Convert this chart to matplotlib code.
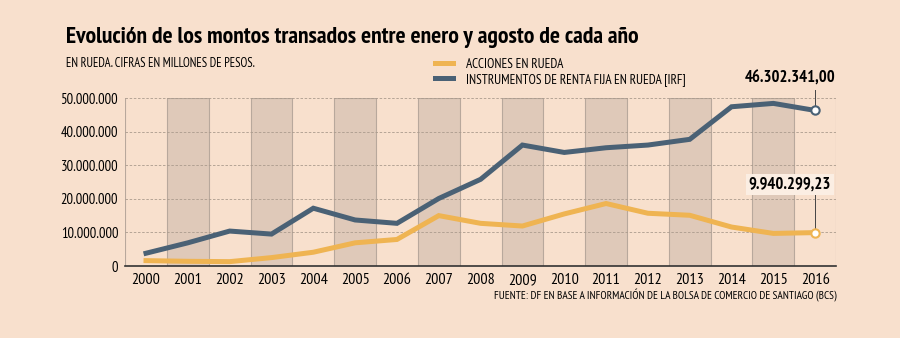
import matplotlib.pyplot as plt
import numpy as np

years = list(range(2000, 2017))
irf = [3.8, 6.9, 10.4, 9.5, 17.2, 13.7, 12.7, 20.1, 25.8, 36.0, 33.8, 35.2, 36.0, 37.7, 47.4, 48.4, 46.302341]
acciones = [1.6, 1.4, 1.3, 2.5, 4.1, 6.9, 7.9, 15.0, 12.7, 11.9, 15.5, 18.6, 15.7, 15.1, 11.6, 9.7, 9.94029923]
yticks = [0, 10, 20, 30, 40, 50]
ytick_labels = ['0', '10.000.000', '20.000.000', '30.000.000', '40.000.000', '50.000.000']

bg = '#f8e0cd'
band = '#dfc9b9'
blue = '#4a6175'
orange = '#efb452'

plt.rcParams['font.family'] = ['PT Sans Narrow', 'DejaVu Sans']

fig = plt.figure(figsize=(9, 3.38), dpi=100, facecolor=bg)
ax = fig.add_axes([0.139, 0.213, 0.79, 0.497])
ax.set_facecolor(bg)

x = np.arange(len(years))
for i in range(1, len(years), 2):
    ax.axvspan(i - 0.5, i + 0.5, facecolor=band, edgecolor='#b8a89c', linewidth=0.8, zorder=0)

for v in yticks[1:]:
    ax.axhline(v, color='#ab9b8d', linestyle=(0, (3, 2)), linewidth=0.6, zorder=1)

ax.plot(x, acciones, color=orange, linewidth=3.6, solid_joinstyle='miter', zorder=3)
ax.plot(x, irf, color=blue, linewidth=3.6, solid_joinstyle='miter', zorder=3)
ax.plot(x[-1], acciones[-1], 'o', ms=6, mfc='white', mec=orange, mew=1.5, zorder=4)
ax.plot(x[-1], irf[-1], 'o', ms=6, mfc='white', mec=blue, mew=1.5, zorder=4)

ax.set_xlim(-0.5, 16.5)
ax.set_ylim(0, 50)
ax.set_xticks(x)
ax.set_xticklabels([str(y) for y in years], fontsize=11.5)
ax.set_yticks(yticks)
ax.set_yticklabels(ytick_labels, fontsize=10.5)
ax.tick_params(length=0, pad=5)
for s in ['left', 'right', 'top']:
    ax.spines[s].set_visible(False)
ax.spines['bottom'].set_color('#333333')
ax.spines['bottom'].set_linewidth(1.2)
ax.axvline(-0.5, color='#b8a89c', linewidth=0.8, zorder=0)
ax.axvline(16.5, color='#b8a89c', linewidth=0.8, zorder=0)

# etiquetas del ultimo valor
ax.plot([x[-1], x[-1]], [irf[-1] + 1.2, 52.4], color='#444444', linewidth=0.7, clip_on=False)
ax.text(16.48, 54.5, '46.302.341,00', fontsize=12, fontweight='bold', ha='right', va='baseline', clip_on=False)
ax.plot([x[-1], x[-1]], [acciones[-1] + 1.2, 22.0], color='#444444', linewidth=0.7)
ax.text(16.38, 23.1, '9.940.299,23', fontsize=12, fontweight='bold', ha='right', va='baseline',
        bbox=dict(facecolor='#fbeee3', edgecolor='none', pad=2))

fig.text(0.073, 0.873, 'Evolución de los montos transados entre enero y agosto de cada año',
         fontsize=17, fontweight='bold', ha='left', va='baseline')
fig.text(0.073, 0.802, 'EN RUEDA. CIFRAS EN MILLONES DE PESOS.', fontsize=9, ha='left', va='baseline')

# leyenda
fig.lines.append(plt.Line2D([0.483, 0.503], [0.814, 0.814], color=orange, linewidth=3.6, transform=fig.transFigure))
fig.lines.append(plt.Line2D([0.483, 0.503], [0.768, 0.768], color=blue, linewidth=3.6, transform=fig.transFigure))
fig.text(0.518, 0.799, 'ACCIONES EN RUEDA', fontsize=9.5, ha='left', va='baseline')
fig.text(0.518, 0.754, 'INSTRUMENTOS DE RENTA FIJA EN RUEDA [IRF]', fontsize=9.5, ha='left', va='baseline')

fig.text(0.929, 0.115, 'FUENTE: DF EN BASE A INFORMACIÓN DE LA BOLSA DE COMERCIO DE SANTIAGO (BCS)',
         fontsize=8.2, ha='right', va='baseline')

fig.savefig('out.png', dpi=100, facecolor=bg)
